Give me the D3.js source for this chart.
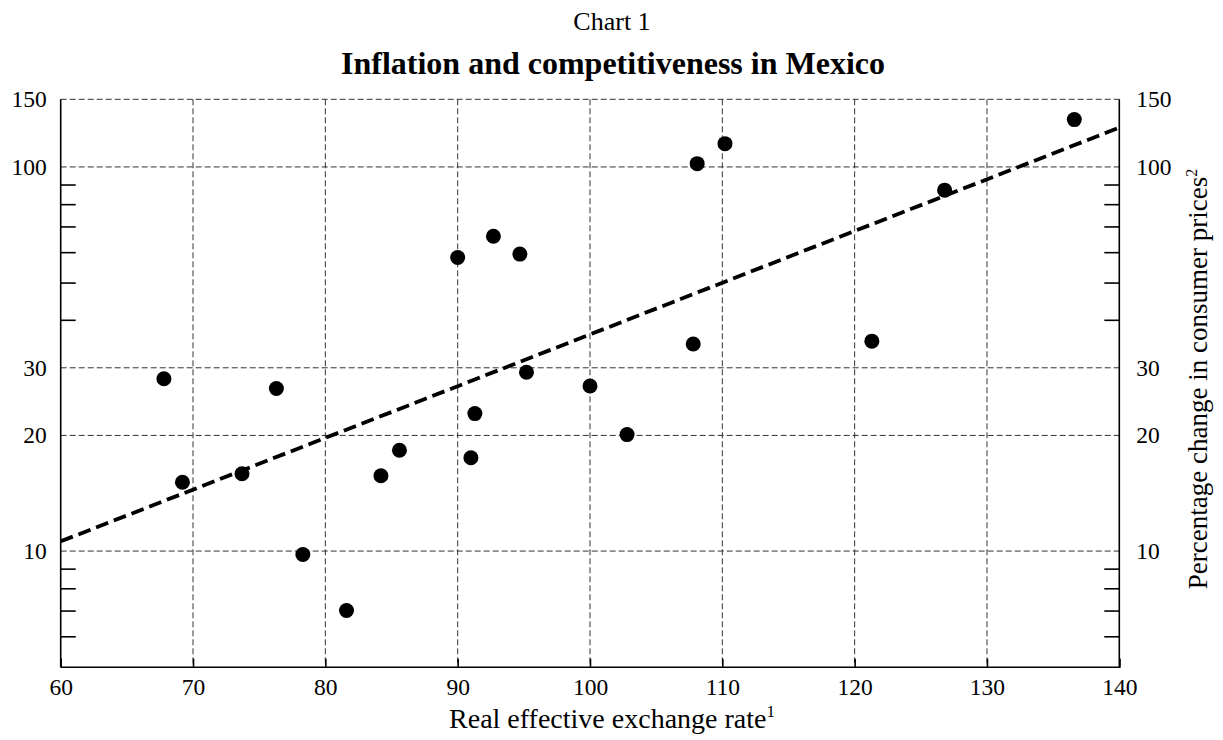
<!DOCTYPE html>
<html>
<head>
<meta charset="utf-8">
<script src="https://cdn.jsdelivr.net/npm/d3@7"></script>
<style>
  body { margin: 0; background: #fff; }
  svg text { font-family: "Liberation Serif", "Times New Roman", serif; fill: #000; }
</style>
</head>
<body>
<div class="visHolder"></div>
<script>
// exchange rate (x) and consumer price inflation (y)
const exchangeRate = [67.8, 69.2, 73.7, 76.3, 78.3, 81.6, 84.2, 85.6, 90.0, 91.0, 91.3,
    92.7, 94.7, 95.2, 100.0, 102.8, 107.8, 108.1, 110.2, 121.3, 126.8, 136.6];
const inflation = [28.1, 15.1, 15.9, 26.5, 9.8, 7.0, 15.7, 18.3, 58.1, 17.5, 22.8,
    66.0, 59.3, 29.2, 26.9, 20.1, 34.6, 102, 115, 35.2, 87.0, 132.8];
const trendX = [60, 140];
const trendY = [10.6, 126.6];
const xTicks = [60, 70, 80, 90, 100, 110, 120, 130, 140];
const xGrid = [70, 80, 90, 100, 110, 120, 130];
const yTicks = [10, 20, 30, 100, 150];
const yMinor = [6, 7, 8, 9, 40, 50, 60, 70, 80, 90];

const width = 1223, height = 740;
const plotLeft = 60.7, plotRight = 1119.3, plotTop = 99.3, plotBottom = 666.7;

const svg = d3.select('.visHolder')
    .append('svg')
    .attr('width', width)
    .attr('height', height);

const x = d3.scaleLinear().domain([60, 140]).range([plotLeft, plotRight]);
const y = d3.scaleLog().domain([5, 150]).range([plotBottom, plotTop]);

// titles
svg.append('text')
    .attr('x', 612).attr('y', 30)
    .attr('text-anchor', 'middle')
    .style('font-size', '26px')
    .text('Chart 1');
svg.append('text')
    .attr('x', 613).attr('y', 74)
    .attr('text-anchor', 'middle')
    .style('font-size', '32px')
    .style('font-weight', 'bold')
    .text('Inflation and competitiveness in Mexico');

// grid
svg.append('g').selectAll('line')
    .data(xGrid)
    .enter().append('line')
    .attr('x1', d => x(d)).attr('x2', d => x(d))
    .attr('y1', plotTop).attr('y2', plotBottom)
    .attr('stroke', '#333').attr('stroke-width', 1)
    .attr('stroke-dasharray', '6,3');
svg.append('g').selectAll('line')
    .data(yTicks)
    .enter().append('line')
    .attr('x1', plotLeft).attr('x2', plotRight)
    .attr('y1', d => y(d)).attr('y2', d => y(d))
    .attr('stroke', '#333').attr('stroke-width', 1)
    .attr('stroke-dasharray', '6,3');

// axes
const xAxis = d3.axisBottom(x).tickValues(xTicks).tickSize(-8).tickPadding(12).tickFormat(d3.format('d'));
svg.append('g').attr('transform', `translate(0,${plotBottom})`).call(xAxis);

const gyl = svg.append('g').attr('transform', `translate(${plotLeft},0)`)
    .call(d3.axisLeft(y).tickValues(yTicks).tickSize(0).tickPadding(14).tickFormat(d3.format('d')));
const gyr = svg.append('g').attr('transform', `translate(${plotRight},0)`)
    .call(d3.axisRight(y).tickValues(yTicks).tickSize(0).tickPadding(17).tickFormat(d3.format('d')));
svg.append('g').attr('transform', `translate(${plotLeft},0)`)
    .call(d3.axisLeft(y).tickValues(yMinor).tickSize(-15).tickFormat(''))
    .call(g => g.select('.domain').remove());
svg.append('g').attr('transform', `translate(${plotRight},0)`)
    .call(d3.axisRight(y).tickValues(yMinor).tickSize(-15).tickFormat(''))
    .call(g => g.select('.domain').remove());

svg.selectAll('.tick text').style('font-size', '23.5px').style('font-family', '"Liberation Serif", "Times New Roman", serif');
svg.selectAll('.tick line').attr('stroke', '#000').attr('stroke-width', 1.6);
svg.selectAll('.domain').attr('stroke', '#000').attr('stroke-width', 1.6);
gyl.select('.domain').remove();
gyr.select('.domain').remove();

// frame sides (solid left, right)
svg.append('line').attr('x1', plotLeft).attr('x2', plotLeft).attr('y1', plotTop).attr('y2', plotBottom)
    .attr('stroke', '#000').attr('stroke-width', 1.6);
svg.append('line').attr('x1', plotRight).attr('x2', plotRight).attr('y1', plotTop).attr('y2', plotBottom)
    .attr('stroke', '#000').attr('stroke-width', 1.6);

// trend line
const line = d3.line().x(d => x(d[0])).y(d => y(d[1]));
svg.append('path')
    .datum(trendX.map((d, i) => [d, trendY[i]]))
    .attr('d', line)
    .attr('fill', 'none')
    .attr('stroke', '#000')
    .attr('stroke-width', 3.8)
    .attr('stroke-dasharray', '13,6');

// points
svg.append('g').selectAll('circle')
    .data(exchangeRate)
    .enter().append('circle')
    .attr('cx', d => x(d))
    .attr('cy', (d, i) => y(inflation[i]))
    .attr('r', 7.5)
    .attr('fill', '#000');

// axis titles
const xt = svg.append('text')
    .attr('x', 612).attr('y', 728)
    .attr('text-anchor', 'middle')
    .style('font-size', '28px');
xt.append('tspan').text('Real effective exchange rate');
xt.append('tspan').attr('dy', -11).style('font-size', '17px').text('1');

const yt = svg.append('text')
    .attr('transform', 'translate(1207,379) rotate(-90)')
    .attr('text-anchor', 'middle')
    .style('font-size', '27px');
yt.append('tspan').text('Percentage change in consumer prices');
yt.append('tspan').attr('dy', -10).style('font-size', '16px').text('2');
</script>
</body>
</html>
